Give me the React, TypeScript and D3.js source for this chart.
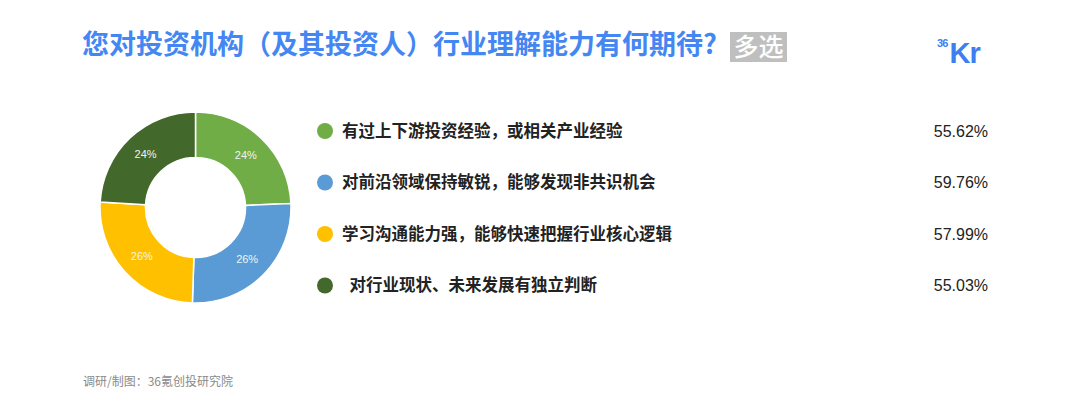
import React from "react";
import * as d3 from "d3";

const categories = [
  "有过上下游投资经验，或相关产业经验",
  "对前沿领域保持敏锐，能够发现非共识机会",
  "学习沟通能力强，能够快速把握行业核心逻辑",
  "  对行业现状、未来发展有独立判断",
];
const values = [55.62, 59.76, 57.99, 55.03];
const valueLabels = ["55.62%", "59.76%", "57.99%", "55.03%"];
const sliceLabels = ["24%", "26%", "26%", "24%"];
const colors = ["#70ad47", "#5b9bd5", "#ffc000", "#43682b"];

const W = 1080;
const H = 414;

export default function App() {
  const cx = 195.5;
  const cy = 207.5;
  const outerR = 95.5;
  const innerR = 50;
  const pie = d3.pie<number>().sort(null).value((d) => d)(values);
  const arc = d3.arc<d3.PieArcDatum<number>>().innerRadius(innerR).outerRadius(outerR);
  const rowY = d3.scalePoint<number>().domain(d3.range(categories.length)).range([131, 285.5]);
  const cjk = "'Noto Sans CJK SC', 'Noto Sans', sans-serif";
  const latin = "'Liberation Sans', Arial, sans-serif";

  return (
    <svg width={W} height={H} style={{ position: "absolute", left: 0, top: 0, background: "#fff" }}>
      <rect width={W} height={H} fill="#fff" />
      <text x={82} y={54} fontFamily={cjk} fontWeight={700} fontSize={27} fill="#4487f2">
        您对投资机构（及其投资人）行业理解能力有何期待?
      </text>
      <rect x={730} y={32} width={57} height={30} fill="#bfbfbf" />
      <text x={758.5} y={56} textAnchor="middle" fontFamily={cjk} fontWeight={500} fontSize={25} fill="#fff">
        多选
      </text>
      <text x={937} y={47} fontFamily={latin} fontWeight={700} fontSize={11} fill="#3d7ff0" letterSpacing={-0.8}>
        36
      </text>
      <text x={949.5} y={63} fontFamily={latin} fontWeight={700} fontSize={29} fill="#3d7ff0" letterSpacing={-1}>
        Kr
      </text>

      <g transform={`translate(${cx},${cy})`}>
        {pie.map((p, i) => (
          <path key={i} d={arc(p) || ""} fill={colors[i]} stroke="#fff" strokeWidth={1.5} />
        ))}
        {pie.map((p, i) => {
          const [x, y] = arc.centroid(p);
          return (
            <text key={i} x={x} y={y} dy="0.35em" textAnchor="middle" fontFamily={latin} fontSize={11} fill="#f2f2f2">
              {sliceLabels[i]}
            </text>
          );
        })}
      </g>

      {categories.map((c, i) => (
        <g key={i}>
          <circle cx={325} cy={rowY(i)!} r={8} fill={colors[i]} />
          <text x={342} y={rowY(i)!} dy="0.36em" fontFamily={cjk} fontWeight={700} fontSize={16.5} fill="#222" style={{ whiteSpace: "pre" }}>
            {c}
          </text>
          <text x={988} y={rowY(i)!} dy="0.36em" textAnchor="end" fontFamily={latin} fontSize={16} fill="#222">
            {valueLabels[i]}
          </text>
        </g>
      ))}

      <text x={83} y={382} dy="0.35em" fontFamily={cjk} fontSize={12} fill="#8a8a8a">
        调研/制图：36氪创投研究院
      </text>
    </svg>
  );
}
